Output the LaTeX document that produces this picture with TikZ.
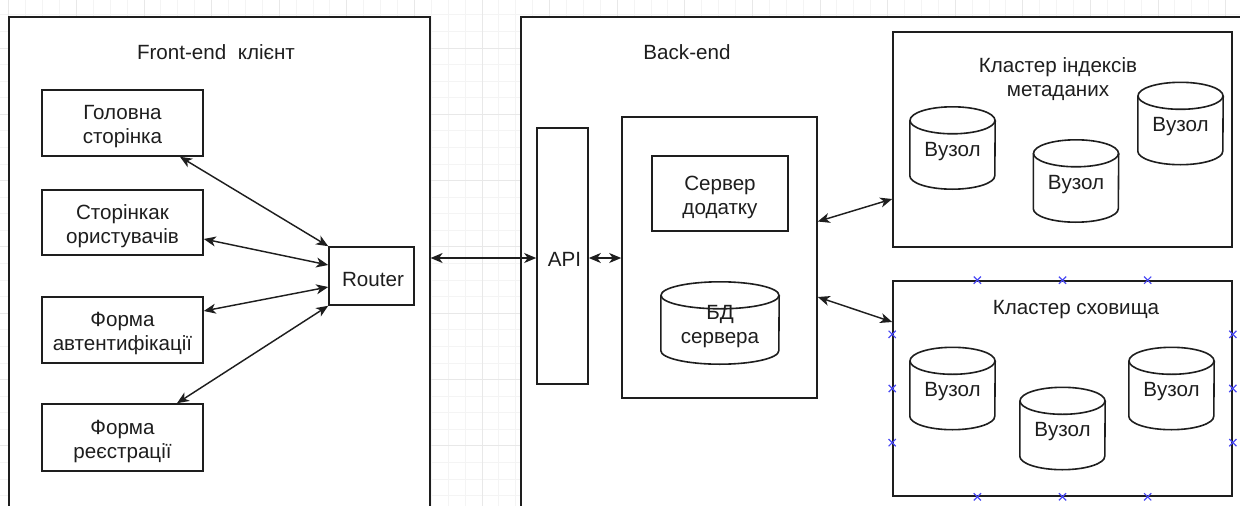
\documentclass[tikz,border=0pt]{standalone}
\usepackage{fontspec}
\setmainfont{Liberation Sans}
\usetikzlibrary{arrows.meta,calc}

\definecolor{ink}{HTML}{1E1E1E}
\definecolor{gridminor}{HTML}{F4F4F4}
\definecolor{gridmajor}{HTML}{E8E8E8}
\definecolor{handle}{HTML}{4A4AF5}

\tikzset{
  box/.style={draw=ink, line width=1.6pt, fill=white, inner sep=0pt},
  lbl/.style={inner sep=0pt, align=center, text=ink, yshift=-3.5pt,
    font=\fontsize{20.6}{24}\selectfont},
  txt/.style={label={[lbl]center:{#1}}},
  drumline/.style={draw=ink, line width=1.6pt},
  link/.style={draw=ink, line width=1.45pt,
    {Stealth[length=12pt,width=10pt,inset=3.5pt]}-{Stealth[length=12pt,width=10pt,inset=3.5pt]}},
  minorline/.style={draw=gridminor, line width=1pt},
  majorline/.style={draw=gridmajor, line width=1pt},
  handlemark/.style={draw=handle, line width=1.2pt},
}

% database drum: name, centre, width, label
\newcommand{\dbdrum}[4]{%
  \node[inner sep=0pt, minimum width=#3pt, minimum height=82pt, txt={#4}] (#1) at (#2) {};
  \draw[drumline] ([yshift=-13.5pt]#1.north west) -- ([yshift=13.5pt]#1.south west)
    arc[start angle=180, end angle=360, x radius=#3pt/2, y radius=13.5pt]
    -- ([yshift=-13.5pt]#1.north east);
  \draw[drumline] ([yshift=-13.5pt]#1.north) ellipse[x radius=#3pt/2, y radius=13.5pt];
}

% small connection-point cross
\newcommand{\handleat}[1]{%
  \draw[handlemark] (#1) +(-3.6pt,-3.6pt) -- +(3.6pt,3.6pt) +(-3.6pt,3.6pt) -- +(3.6pt,-3.6pt);
}

\begin{document}
\begin{tikzpicture}[x=1pt, y=-1pt]
\useasboundingbox (0,0) rectangle (1240,506);
\clip (0,0) rectangle (1240,506);

% background grid
\fill[white] (0,0) rectangle (1240,506);
\foreach \k in {0,...,74} {
  \pgfmathsetmacro\gx{482+16.9*(\k-28)}
  \draw[minorline] (\gx,0) -- (\gx,506);
}
\foreach \j in {0,...,31} {
  \pgfmathsetmacro\gy{48+16.58*(\j-4)}
  \draw[minorline] (0,\gy) -- (1240,\gy);
}
\foreach \k in {0,...,18} {
  \pgfmathsetmacro\gx{482+67.6*(\k-7)}
  \draw[majorline] (\gx,0) -- (\gx,506);
}
\foreach \j in {0,...,8} {
  \pgfmathsetmacro\gy{48+66.32*(\j-1)}
  \draw[majorline] (0,\gy) -- (1240,\gy);
}

% ---------------- front-end ----------------
\node[box, anchor=north west, minimum width=421pt, minimum height=520pt] (front) at (8,16) {};
\node[lbl] (fronttitle) at (216,49) {Front-end\ \ клієнт};

\node[box, minimum width=161pt, minimum height=66pt, txt={Головна\\сторінка}] (home) at (122.5,123) {};
\node[box, minimum width=161pt, minimum height=65pt, txt={Сторінкак\\ористувачів}] (users) at (122.5,222.5) {};
\node[box, minimum width=161pt, minimum height=66pt, txt={Форма\\автентифікації}] (auth) at (122.5,330) {};
\node[box, minimum width=161pt, minimum height=67pt, txt={Форма\\реєстрації}] (reg) at (122.5,437.5) {};
\node[box, minimum width=85pt, minimum height=58pt, txt={\hspace*{3pt}Router}] (router) at (371.5,276) {};

\draw[link] ([xshift=57.5pt]home.south) -- (router.north west);
\draw[link] ([yshift=-16.5pt]users.east) -- ([yshift=11pt]router.west);
\draw[link] ([yshift=19pt]auth.east) -- ([yshift=-11pt]router.west);
\draw[link] ([xshift=54.5pt]reg.north) -- (router.south west);

% ---------------- back-end ----------------
\node[box, anchor=north west, minimum width=760pt, minimum height=520pt] (back) at (520,16) {};
\node[lbl] (backtitle) at (687,49) {Back-end};

\node[box, minimum width=51pt, minimum height=256pt, txt={\hspace*{4pt}API}] (api) at (562.5,256) {};

\node[box, minimum width=195pt, minimum height=281pt] (app) at (719.5,257.5) {};
\node[box, minimum width=136pt, minimum height=75pt, txt={Сервер\\додатку}] (srv) at (720,193.5) {};
\dbdrum{db}{720,323}{118}{БД\\сервера}

\draw[link] ([yshift=-2pt]api.west -| front.east) -- ([yshift=-2pt]api.west);
\draw[link] ([yshift=-2pt]api.east) -- ([yshift=-2pt]api.east -| app.west);

% metadata index cluster
\node[box, minimum width=339pt, minimum height=215pt] (index) at (1062.5,139.5) {};
\node[lbl] (indextitle) at (1058,76) {Кластер індексів\\метаданих};
\dbdrum{ia}{952.5,148}{85}{Вузол}
\dbdrum{ib}{1076,181}{85}{Вузол}
\dbdrum{ic}{1180.5,123.5}{85}{Вузол}

% storage cluster
\node[box, minimum width=339pt, minimum height=215pt] (storage) at (1062.5,388.5) {};
\node[lbl] (storagetitle) at (1076,306) {Кластер сховища};
\dbdrum{sa}{952.5,388.5}{85}{Вузол}
\dbdrum{sb}{1062.5,428.5}{85}{Вузол}
\dbdrum{sc}{1171.5,388.5}{85}{Вузол}

\draw[link] ([yshift=36pt]app.east) -- ([yshift=-59.5pt]index.west);
\draw[link] ([yshift=-39.5pt]app.east) -- ([yshift=66.5pt]storage.west);

% connection points on the storage cluster
\foreach \f in {0.25,0.5,0.75} {
  \handleat{$(storage.north west)!\f!(storage.north east)$}
  \handleat{$(storage.south west)!\f!(storage.south east)$}
  \handleat{$(storage.north west)!\f!(storage.south west)$}
  \handleat{$(storage.north east)!\f!(storage.south east)$}
}
\end{tikzpicture}
\end{document}
